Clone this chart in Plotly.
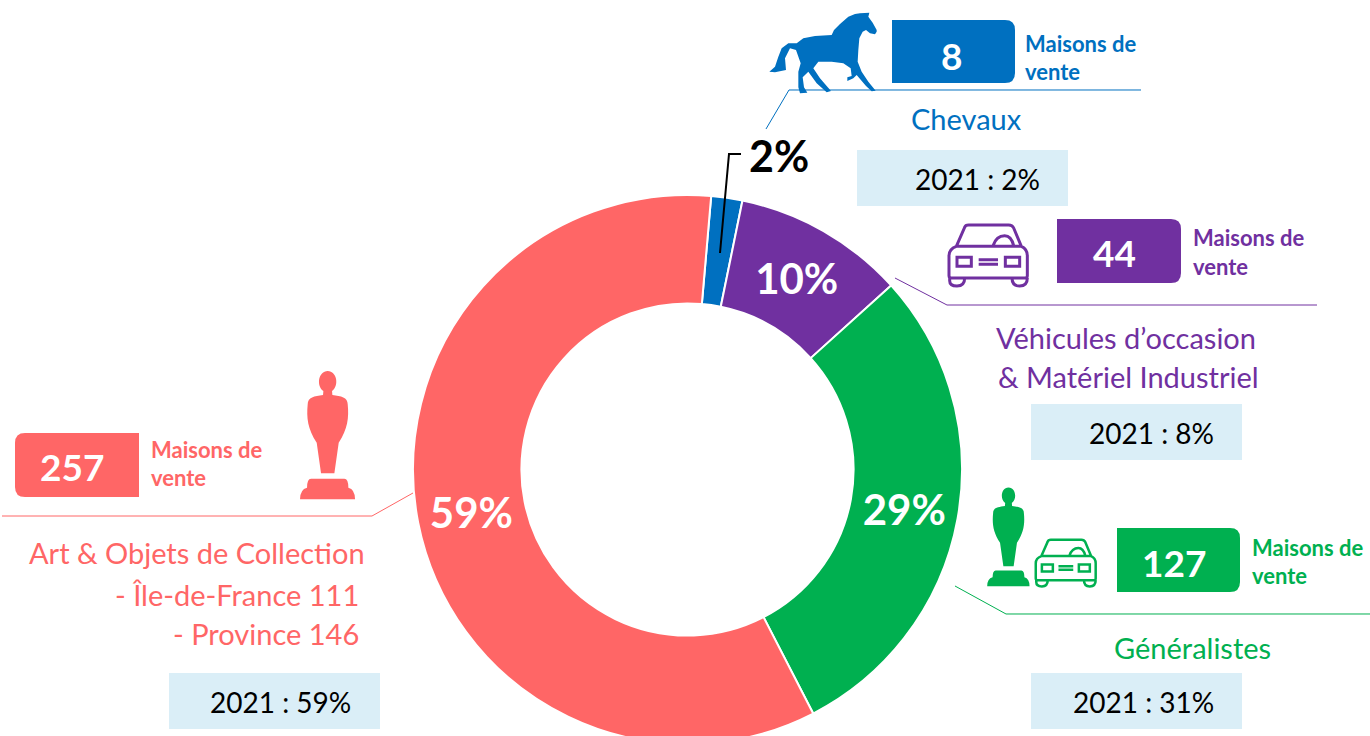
import plotly.graph_objects as go

categories = ["Chevaux", "Véhicules d’occasion & Matériel Industriel", "Généralistes", "Art & Objets de Collection"]
maisons = [8, 44, 127, 257]
labels_pct = ["", "10%", "29%", "59%"]
colors = ["#0070C0", "#7030A0", "#00B050", "#FF6666"]
BLUE, PURPLE, GREEN, RED = colors
LIGHT = "#DAEEF7"
FONT = "Lato"
W, H = 1370, 760

def X(x): return x / W
def Y(y): return 1 - y / H

def path(cmds):
    out = []
    for c in cmds:
        op = c[0]
        vals = c[1:]
        pts = [f"{X(vals[i]):.5f},{Y(vals[i+1]):.5f}" for i in range(0, len(vals), 2)]
        out.append(op + " ".join(pts))
    return " ".join(out)

shapes = []
annotations = []

def add_path(cmds, fill=None, line=None, width=0):
    shapes.append(dict(type="path", xref="paper", yref="paper", path=path(cmds) ,
                       fillcolor=fill if fill else "rgba(0,0,0,0)",
                       line=dict(color=line if line else "rgba(0,0,0,0)", width=width)))

def polyline(points, color, width=1):
    cmds = [("M",) + points[0]] + [("L",) + p for p in points[1:]]
    add_path(cmds, line=color, width=width)

def rect(x0, y0, x1, y1, color):
    shapes.append(dict(type="rect", xref="paper", yref="paper", x0=X(x0), x1=X(x1), y0=Y(y0), y1=Y(y1),
                       fillcolor=color, line=dict(width=0)))

def round_right(x0, y0, x1, y1, color, r=10):
    add_path([("M", x0, y0), ("L", x1 - r, y0), ("Q", x1, y0, x1, y0 + r), ("L", x1, y1 - r),
              ("Q", x1, y1, x1 - r, y1), ("L", x0, y1), ("Z",)], fill=color)

def round_left(x0, y0, x1, y1, color, r=10):
    add_path([("M", x0 + r, y0), ("L", x1, y0), ("L", x1, y1), ("L", x0 + r, y1),
              ("Q", x0, y1, x0, y1 - r), ("L", x0, y0 + r), ("Q", x0, y0, x0 + r, y0), ("Z",)], fill=color)

def text(x, y, s, color, size, bold=False, anchor="center"):
    annotations.append(dict(xref="paper", yref="paper", x=X(x), y=Y(y), text=f"<b>{s}</b>" if bold else s,
                            showarrow=False, xanchor=anchor, yanchor="middle",
                            font=dict(family=FONT, size=size, color=color), borderpad=0, borderwidth=0))

HORSE = [(350,95),(345,103),(330,100),(318,90),(308,95),(298,115),(295,150),(293,185),(305,215),(325,245),(347,272),
         (335,274),(318,258),(290,225),(280,235),(262,243),(262,232),(275,228),(272,205),(250,190),(215,185),(175,185),
         (160,205),(180,235),(213,273),(200,277),(170,250),(145,215),(128,232),(132,262),(142,278),(120,280),(115,262),
         (115,215),(122,190),(108,150),(90,145),(75,175),(78,210),(45,217),(28,215),(45,200),(55,170),(65,145),(85,130),
         (110,130),(130,115),(165,108),(215,105),(222,90),(240,72),(265,50),(285,42),(300,40),(328,38),(325,50),(338,68),(350,90)]

def horse(color):
    pts = [(760 + a / 3, b / 3) for a, b in HORSE]
    add_path([("M",) + pts[0]] + [("L",) + p for p in pts[1:]] + [("Z",)], fill=color)

def oscar(cx, top, s, color):
    def p(a, b): return (cx + a * s / 3, top + b * s / 3)
    def seg(op, *q):
        r = (op,)
        for a, b in q: r += p(a, b)
        return r
    add_path([
        seg("M", (-13, 60)),
        seg("C", (-35, 45), (-28, 0), (0, 0)), seg("C", (28, 0), (35, 45), (13, 60)),
        seg("L", (14, 72)), seg("C", (40, 76), (60, 78), (60, 100)),
        seg("C", (64, 140), (60, 175), (33, 215)),
        seg("L", (20, 307)), seg("L", (-20, 307)), seg("L", (-33, 215)),
        seg("C", (-60, 175), (-64, 140), (-60, 100)),
        seg("C", (-60, 78), (-40, 76), (-14, 72)), ("Z",)], fill=color)
    add_path([
        seg("M", (-50, 323)), seg("L", (50, 323)), seg("Q", (62, 323), (62, 350)),
        seg("Q", (82, 355), (82, 385)), seg("L", (-83, 385)), seg("Q", (-83, 355), (-62, 350)),
        seg("Q", (-62, 323), (-50, 323)), ("Z",)], fill=color)

def car(x0, y0, s, color, w):
    def p(a, b): return (x0 + a * s / 3, y0 + b * s / 3)
    def seg(op, *q):
        r = (op,)
        for a, b in q: r += p(a, b)
        return r
    add_path([
        seg("M", (25, 67)), seg("L", (50, 10)), seg("Q", (52, 3), (62, 3)), seg("L", (182, 3)),
        seg("Q", (193, 3), (197, 12)), seg("L", (220, 67)),
        seg("Q", (238, 75), (238, 95)), seg("L", (238, 155)), seg("Q", (238, 162), (230, 162)),
        seg("L", (12, 162)), seg("Q", (3, 162), (3, 155)), seg("L", (3, 95)), seg("Q", (3, 75), (25, 67)), ("Z",),
        seg("M", (25, 67)), seg("L", (220, 67)),
        seg("M", (135, 65)), seg("Q", (145, 35), (170, 35)), seg("Q", (190, 35), (197, 65)),
        seg("M", (27, 100)), seg("L", (70, 100)), seg("L", (70, 127)), seg("L", (27, 127)), ("Z",),
        seg("M", (172, 100)), seg("L", (215, 100)), seg("L", (215, 127)), seg("L", (172, 127)), ("Z",),
        seg("M", (92, 107)), seg("L", (150, 107)), seg("M", (92, 121)), seg("L", (150, 121)),
        seg("M", (5, 162)), seg("L", (5, 170)), seg("Q", (5, 186), (27, 186)), seg("Q", (50, 186), (50, 162)),
        seg("M", (192, 162)), seg("Q", (192, 186), (215, 186)), seg("Q", (238, 186), (238, 162)),
    ], line=color, width=w)

# Light boxes and their text
for box, cx, cy, s in [((857, 150, 1068, 206), 977, 180, "2021 : 2%"),
                       ((1031, 404, 1242, 460), 1151, 434, "2021 : 8%"),
                       ((1031, 673, 1242, 729), 1143, 703, "2021 : 31%"),
                       ((169, 673, 380, 729), 280, 703, "2021 : 59%")]:
    rect(*box, LIGHT)
    text(cx, cy - 1, s, "#000000", 28)

# Count boxes
round_right(892, 20, 1015, 83, BLUE)
round_right(1057, 219, 1181, 283, PURPLE)
round_right(1117, 528, 1240, 592, GREEN)
round_left(15, 433, 139, 497, RED)
text(951, 55, str(maisons[0]), "#FFFFFF", 37, True)
text(1114, 253, str(maisons[1]), "#FFFFFF", 37, True)
text(1174, 562, str(maisons[2]), "#FFFFFF", 37, True)
text(72, 466, str(maisons[3]), "#FFFFFF", 37, True)

for x, y, c in [(1025, 43, BLUE), (1193, 238, PURPLE), (1252, 547, GREEN), (151, 450, RED)]:
    text(x, y, "Maisons de", c, 22, True, "left")
    text(x, y + 28, "vente", c, 22, True, "left")

# Leader lines
polyline([(766, 129), (789, 90), (1141, 90)], BLUE)
polyline([(895, 278), (947, 305), (1317, 305)], PURPLE)
polyline([(955, 586), (1006, 614), (1370, 614)], GREEN)
polyline([(413, 493), (372, 516), (2, 516)], RED)
polyline([(720, 253), (729, 154), (741, 154)], "#000000", 2)

# Category titles
text(966, 118, "Chevaux", BLUE, 29)
text(996, 337, "Véhicules d’occasion", PURPLE, 29, anchor="left")
text(998, 376, "&amp; Matériel Industriel", PURPLE, 29, anchor="left")
text(1192, 647, "Généralistes", GREEN, 29)
text(29, 552, "Art &amp; Objets de Collection", RED, 29, anchor="left")
text(359, 594, "- Île-de-France 111", RED, 29, anchor="right")
text(359, 633, "- Province 146", RED, 29, anchor="right")
text(779, 156, "2%", "#000000", 43, True)

# Icons
horse(BLUE)
car(948, 224, 1.0, PURPLE, 3)
car(1035, 539, 0.765, GREEN, 2.5)
oscar(327.7, 371, 1.0, RED)
oscar(1008.5, 487.5, 0.77, GREEN)

fig = go.Figure(go.Pie(
    values=maisons, labels=categories, text=labels_pct, textinfo="text", sort=False,
    direction="clockwise", rotation=4.95, hole=0.605,
    marker=dict(colors=colors, line=dict(color="#FFFFFF", width=2)),
    textposition="inside", insidetextorientation="horizontal",
    textfont=dict(family=FONT, size=42, color="#FFFFFF", weight="bold"),
    hoverinfo="label+value+percent",
    domain=dict(x=[X(413), X(962)], y=[Y(744), Y(195)]),
    showlegend=False,
))
fig.update_layout(width=W, height=H, margin=dict(l=0, r=0, t=0, b=0), autosize=False,
                  paper_bgcolor="#FFFFFF", plot_bgcolor="#FFFFFF", shapes=shapes, annotations=annotations,
                  font=dict(family=FONT))
fig.write_html("out.html", config=dict(displayModeBar=False),
               post_script="document.documentElement.style.overflow='hidden';document.body.style.margin='0';document.body.style.overflow='hidden';")
